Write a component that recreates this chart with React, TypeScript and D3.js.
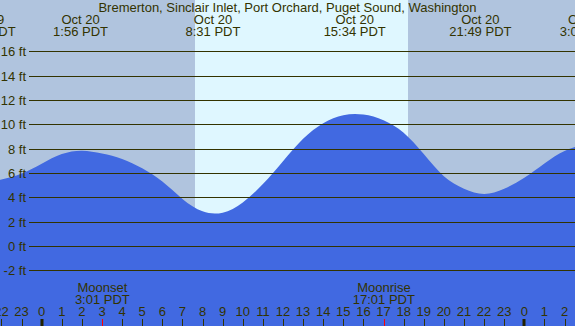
import * as d3 from 'd3';

const W = 575;
const H = 326;

const title = 'Bremerton, Sinclair Inlet, Port Orchard, Puget Sound, Washington';

// hourly tide height (ft), first value at hour -3 (Oct 19 21:00)
const startHour = -3;
const heights = [
  5.3, 5.47, 5.95, 6.76, 7.55, 7.83, 7.6, 7.15, 6.38, 5.29, 3.87, 2.85, 2.74, 3.58, 5.09, 6.97,
  8.81, 10.09, 10.75, 10.8, 10.33, 9.3, 7.55, 5.73, 4.71, 4.28, 4.7, 5.6, 6.78, 7.8, 8.35,
];

// high / low tide labels
const extremeHours = [-2.82, 1.933, 8.517, 15.567, 21.817, 27.13];
const extremeDates = ['Oct 19', 'Oct 20', 'Oct 20', 'Oct 20', 'Oct 20', 'Oct 21'];
const extremeTimes = ['21:11 PDT', '1:56 PDT', '8:31 PDT', '15:34 PDT', '21:49 PDT', '3:08 PDT'];

// daylight
const sunrise = 7.617;
const sunset = 18.217;

// moon
const moonHours = [3.017, 17.017];
const moonLabels = ['Moonset', 'Moonrise'];
const moonTimes = ['3:01 PDT', '17:01 PDT'];

const ftTicks = [-2, 0, 2, 4, 6, 8, 10, 12, 14, 16];
const hourTicks = d3.range(-2, 27);

const x = d3.scaleLinear([0, 24], [41.7, 524.3]);
const y = d3.scaleLinear([-2, 16], [270.3, 51.3]);

const ink = '#333300';
const font = '"Liberation Sans", Arial, sans-serif';

export default function App() {
  const pts = heights.map((v, i) => ({ h: startHour + i, v }));
  const area = d3.area<{ h: number; v: number }>()
    .x(d => x(d.h)).y0(H).y1(d => y(d.v)).curve(d3.curveNatural);
  const crisp = (v: number) => Math.round(v) + 0.5;

  return (
    <svg width={W} height={H} style={{ position: 'absolute', left: 0, top: 0, display: 'block' }}
      fontFamily={font} fontSize={13}>
      <rect x={0} y={0} width={W} height={H} fill="#b0c4de" />
      <rect x={Math.round(x(sunrise))} y={0} width={Math.round(x(sunset)) - Math.round(x(sunrise))} height={H} fill="#dff7ff" />
      <path d={area(pts) ?? ''} fill="#4169e1" />

      {ftTicks.map(t => (
        <g key={t}>
          <line x1={29} x2={W} y1={crisp(y(t))} y2={crisp(y(t))} stroke={ink} strokeWidth={1} />
          <text x={26} y={Math.round(y(t)) + 4.5} textAnchor="end" fill={ink}>{t} ft</text>
        </g>
      ))}

      <text x={W / 2} y={12} textAnchor="middle" fill={ink}>{title}</text>
      {extremeHours.map((h, i) => (
        <g key={i} fill={ink} textAnchor="middle">
          <text x={x(h)} y={24}>{extremeDates[i]}</text>
          <text x={x(h)} y={36}>{extremeTimes[i]}</text>
        </g>
      ))}

      {moonHours.map((h, i) => (
        <g key={i} fill={ink} textAnchor="middle">
          <text x={x(h)} y={292}>{moonLabels[i]}</text>
          <text x={x(h)} y={304}>{moonTimes[i]}</text>
        </g>
      ))}

      {hourTicks.map(h => {
        const hr = ((h % 24) + 24) % 24;
        return (
          <g key={h}>
            <text x={x(h)} y={316} textAnchor="middle" fill={ink}>{hr}</text>
            {hr === 0
              ? <rect x={Math.round(x(h)) - 1.5} y={319} width={3} height={H - 319} fill="#222200" />
              : <line x1={crisp(x(h))} x2={crisp(x(h))} y1={319} y2={H} stroke={ink} strokeWidth={1} />}
          </g>
        );
      })}
      {moonHours.map((h, i) => (
        <line key={i} x1={crisp(x(h))} x2={crisp(x(h))} y1={319} y2={H} stroke="#ff0000" strokeWidth={1} />
      ))}
    </svg>
  );
}
